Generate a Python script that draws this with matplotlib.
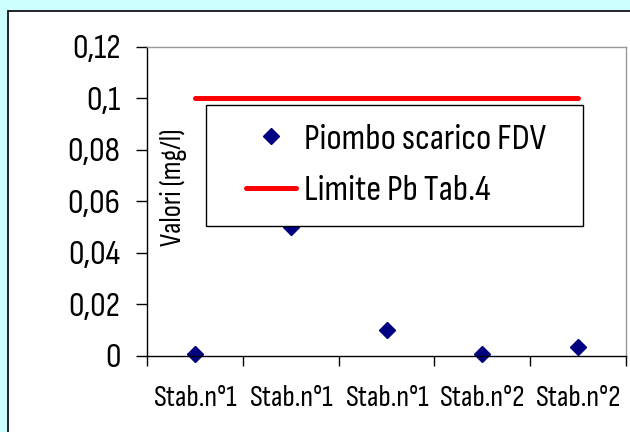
import matplotlib
matplotlib.use("Agg")
import matplotlib.pyplot as plt
from matplotlib.patches import Rectangle
from matplotlib.lines import Line2D

plt.rcParams['font.family'] = ['Sofia Sans Condensed', 'Archivo Narrow', 'DejaVu Sans']

# Data
categories = ['Stab.n°1', 'Stab.n°1', 'Stab.n°1', 'Stab.n°2', 'Stab.n°2']
piombo = [0.0005, 0.05, 0.01, 0.0005, 0.0035]
limite = [0.1, 0.1, 0.1, 0.1, 0.1]
yticks = [0, 0.02, 0.04, 0.06, 0.08, 0.1, 0.12]
ytick_labels = ['0', '0,02', '0,04', '0,06', '0,08', '0,1', '0,12']

W, H = 630, 432
fig = plt.figure(figsize=(W / 100, H / 100), dpi=100)
fig.patch.set_facecolor('#CCFFFF')

# white chart panel with dark border (runs off the right/bottom edges)
panel = Rectangle((7.5 / W, -0.05), 1.1, 1 - 10.5 / H + 0.05,
                  transform=fig.transFigure, facecolor='white',
                  edgecolor='#111111', linewidth=1.3, zorder=-1)
fig.patches.append(panel)

ax = fig.add_axes([147 / W, 1 - 355.5 / H, (626 - 147) / W, (355.5 - 47) / H])
ax.set_zorder(1)
ax.set_facecolor('white')

x = list(range(1, len(categories) + 1))
ax.plot(x, limite, color='#FF0000', linewidth=3.6, solid_capstyle='round',
        label='Limite Pb Tab.4', zorder=3)
ax.plot(x, piombo, linestyle='none', marker='D', markersize=7.8,
        color='#000080', label='Piombo scarico FDV', zorder=2, clip_on=False)

ax.set_xlim(0.5, len(categories) + 0.5)
ax.set_ylim(0, 0.12)

for s in ['top', 'right']:
    ax.spines[s].set_color('#999999')
    ax.spines[s].set_linewidth(1.0)
for s in ['left', 'bottom']:
    ax.spines[s].set_color('black')
    ax.spines[s].set_linewidth(1.0)

ax.set_yticks(yticks)
ax.set_yticklabels(ytick_labels)
ax.tick_params(axis='y', length=8, width=1, pad=11, labelsize=25)

# category boundaries as major ticks, labels on minor ticks at the centres
ax.set_xticks([i + 0.5 for i in range(0, len(categories) + 1)])
ax.set_xticklabels([])
ax.set_xticks(x, minor=True)
ax.set_xticklabels(categories, minor=True)
ax.tick_params(axis='x', which='major', length=7, width=1, direction='out')
ax.tick_params(axis='x', which='minor', length=0, pad=21, labelsize=21.5)

ax.text(173 / W, 1 - 187 / H, 'Valori (mg/l)', transform=fig.transFigure,
        rotation=90, ha='center', va='center', fontsize=21, zorder=6)

# legend: frame drawn separately so the inner padding matches the original
fig.patches.append(Rectangle((206 / W, 1 - 226 / H), (583 - 206) / W, (226 - 105) / H,
                             transform=fig.transFigure, facecolor='white',
                             edgecolor='black', linewidth=1.0, zorder=4))
handles = [Line2D([], [], linestyle='none', marker='D', markersize=7.8, color='#000080'),
           Line2D([], [], color='#FF0000', linewidth=3.6, solid_capstyle='round')]
leg = fig.legend(handles, ['Piombo scarico FDV', 'Limite Pb Tab.4'],
                 loc='center left', bbox_to_anchor=(246 / W, 1 - 165.5 / H),
                 fontsize=26.5, frameon=False, borderpad=0, labelspacing=0.5,
                 handlelength=1.36, handletextpad=0.22, borderaxespad=0)
leg.set_zorder(5)

fig.savefig('out.png', dpi=100, facecolor=fig.get_facecolor())
